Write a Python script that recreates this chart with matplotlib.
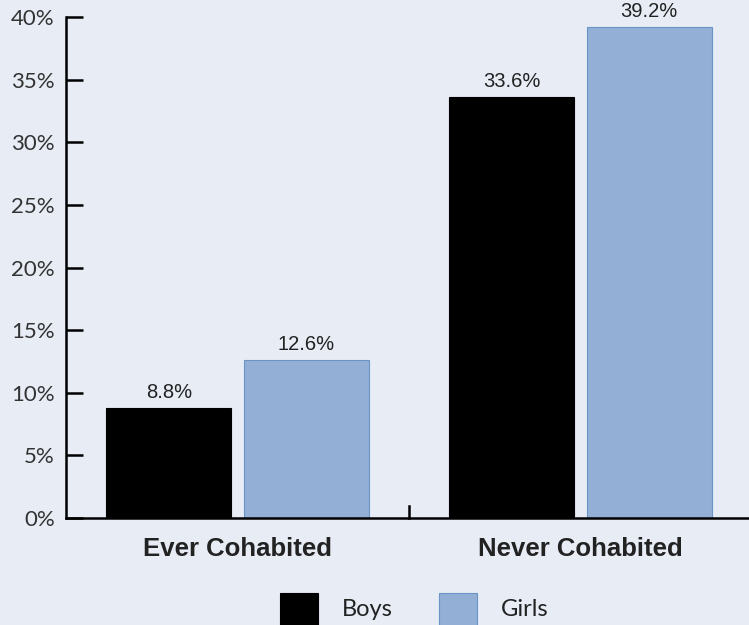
import matplotlib.pyplot as plt
import numpy as np
from matplotlib.patches import Rectangle

categories = ["Ever Cohabited", "Never Cohabited"]
series = ["Boys", "Girls"]
boys = [8.8, 33.6]
girls = [12.6, 39.2]
yticks = [0, 5, 10, 15, 20, 25, 30, 35, 40]

bg = "#E7ECF5"
girls_color = "#93AFD6"
girls_edge = "#6A93C6"

plt.rcParams["font.family"] = ["Lato", "DejaVu Sans"]

fig = plt.figure(figsize=(7.49, 6.25), dpi=100, facecolor=bg)
ax = fig.add_axes([66 / 749, 1 - 518 / 625, 686 / 749, 501 / 625])
ax.set_facecolor(bg)

x = np.arange(len(categories))
w = 0.364
off = 0.2
b1 = ax.bar(x - off, boys, w, color="black", edgecolor="black", linewidth=0.8)
b2 = ax.bar(x + off, girls, w, color=girls_color, edgecolor=girls_edge, linewidth=0.8)

for rects, vals in ((b1, boys), (b2, girls)):
    for r, v in zip(rects, vals):
        ax.text(r.get_x() + r.get_width() / 2, v + 0.5, f"{v:.1f}%",
                ha="center", va="bottom", fontsize=14.5, color="#222222",
                family=["Liberation Sans", "DejaVu Sans"])

ax.set_xlim(-0.5, 1.5)
ax.set_ylim(0, 40)
ax.set_yticks(yticks)
ax.set_yticklabels([f"{t}%" for t in yticks], fontsize=16, color="#333333")
ax.set_xticks(x)
ax.set_xticklabels(categories, fontsize=18.5, fontweight="bold", color="#222222",
                   family=["Liberation Sans", "DejaVu Sans"])
ax.tick_params(axis="x", length=0, pad=14)
ax.tick_params(axis="y", direction="in", length=12, width=1.8, pad=8)

# category separator tick on the x axis
for sep in [0.5]:
    ax.plot([sep, sep], [0, 0.95], color="black", lw=1.8, clip_on=False)

for s in ["top", "right"]:
    ax.spines[s].set_visible(False)
for s in ["left", "bottom"]:
    ax.spines[s].set_linewidth(1.8)

# legend drawn in figure pixels
W, H = 749, 625
legend_items = [(series[0], "black", "black", 280),
                (series[1], girls_color, girls_edge, 439)]
for label, fc, ec, px in legend_items:
    fig.patches.append(Rectangle((px / W, 1 - 632 / H), 38 / W, 39 / H,
                                 transform=fig.transFigure, facecolor=fc,
                                 edgecolor=ec, linewidth=0.8))
    fig.text((px + 62) / W, 1 - 610 / H, label, fontsize=17, color="#222222",
             ha="left", va="center")

fig.savefig("out.png", dpi=100, facecolor=bg)
